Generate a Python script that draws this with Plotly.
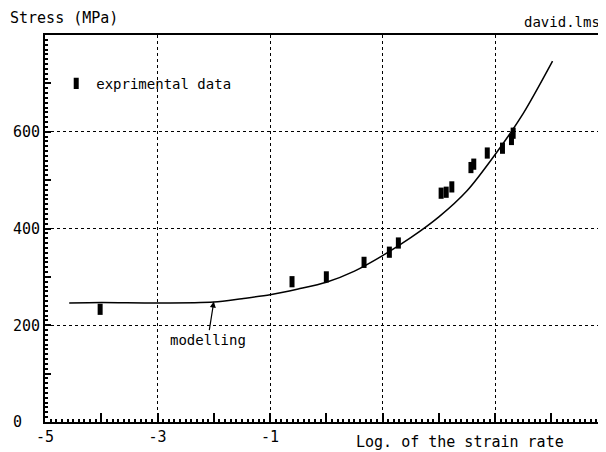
import plotly.graph_objects as go

# experimental data (log strain rate, stress MPa)
exp_x = [-4.02, -0.61, 0.0, 0.67, 1.12, 1.28, 2.04, 2.13, 2.23, 2.57, 2.62, 2.86, 3.13, 3.29, 3.32]
exp_y = [233, 290, 300, 330, 351, 370, 473, 475, 486, 526, 533, 556, 566, 584, 597]

# modelling curve
model_x = [-4.57, -4.0, -3.0, -2.0, -1.5, -1.0, -0.5, 0.0, 0.5, 1.0, 1.5, 2.0, 2.5, 3.0, 3.5, 4.02]
model_y = [246, 247, 246, 248, 255, 263, 275, 289, 312, 344, 381, 424, 478, 553, 638, 746]

x_label_ticks = [-5, -3, -1, 1, 3]
x_label_text = ["-5", "-3", "-1", "", ""]
x_half_ticks = [-4, -2, 0, 2, 4]
y_label_ticks = [0, 200, 400, 600]
y_label_text = ["0\u00a0\u00a0", "200", "400", "600"]
y_half_ticks = [100, 300, 500, 700]

FONT = "DejaVu Sans Mono"
XR = [-5, 4.97]
YR = [0, 800]

fig = go.Figure()
fig.add_trace(go.Scatter(
    x=model_x, y=model_y, mode="lines", line=dict(color="black", width=1.5, shape="spline", smoothing=0.8),
    showlegend=False, hoverinfo="skip"))
fig.add_trace(go.Scatter(
    x=exp_x, y=exp_y, mode="markers", name="exprimental data",
    marker=dict(symbol="line-ns", size=8, line=dict(width=5, color="black"), color="black")))
# helper trace for overlay axes (extra ticks)
fig.add_trace(go.Scatter(x=[None], y=[None], xaxis="x2", yaxis="y2", showlegend=False, hoverinfo="skip"))

fig.update_layout(
    width=598, height=444,
    margin=dict(l=37, r=0, t=27, b=30),
    paper_bgcolor="white", plot_bgcolor="white",
    font=dict(family=FONT, size=15, color="black"),
    showlegend=True,
    legend=dict(x=0.02, y=0.874, xanchor="left", yanchor="middle", bgcolor="rgba(0,0,0,0)",
                font=dict(family=FONT, size=14, color="black"), itemwidth=30),
    xaxis=dict(range=XR, tickmode="array", tickvals=x_label_ticks, ticktext=x_label_text,
               ticks="inside", ticklen=9, tickwidth=1.5, tickcolor="black",
               showgrid=True, gridcolor="black", gridwidth=1, griddash="dot",
               showline=True, linecolor="black", linewidth=2, mirror=True,
               zeroline=False, tickfont=dict(family=FONT, size=15),
               minor=dict(dtick=0.1, ticks="inside", ticklen=3, tickcolor="black", showgrid=False)),
    yaxis=dict(range=YR, tickmode="array", tickvals=y_label_ticks, ticktext=y_label_text,
               ticks="inside", ticklen=6, tickwidth=1.5, tickcolor="black",
               showgrid=True, gridcolor="black", gridwidth=1, griddash="dot",
               showline=True, linecolor="black", linewidth=2, mirror=False,
               zeroline=False, tickfont=dict(family=FONT, size=15),
               minor=dict(dtick=10, ticks="inside", ticklen=3, tickcolor="black", showgrid=False)),
    xaxis2=dict(overlaying="x", range=XR, tickmode="array", tickvals=x_half_ticks,
                ticks="inside", ticklen=9, tickwidth=1.5, tickcolor="black",
                showticklabels=False, showgrid=False, showline=False, zeroline=False, side="bottom"),
    yaxis2=dict(overlaying="y", range=YR, tickmode="array", tickvals=y_half_ticks,
                ticks="inside", ticklen=6, tickwidth=1.5, tickcolor="black",
                showticklabels=False, showgrid=False, showline=False, zeroline=False, side="left"),
    annotations=[
        dict(text="Stress (MPa)", xref="paper", yref="paper", x=-0.066, y=1, yshift=17,
             xanchor="left", yanchor="middle", showarrow=False, font=dict(family=FONT, size=15)),
        dict(text="david.lms", xref="paper", yref="paper", x=1, y=1, yshift=13, xshift=-4,
             xanchor="right", yanchor="middle", showarrow=False, font=dict(family=FONT, size=14)),
        dict(text="Log. of the strain rate", xref="x", yref="paper", x=2.38, y=0, yshift=-20,
             xanchor="center", yanchor="middle", showarrow=False, font=dict(family=FONT, size=15)),
        dict(text="modelling", x=-2.0, y=249, xref="x", yref="y", showarrow=True,
             arrowhead=2, arrowsize=1, arrowwidth=1.2, arrowcolor="black",
             ax=-6, ay=38, font=dict(family=FONT, size=14)),
    ],
)

fig.write_html("out.html")
